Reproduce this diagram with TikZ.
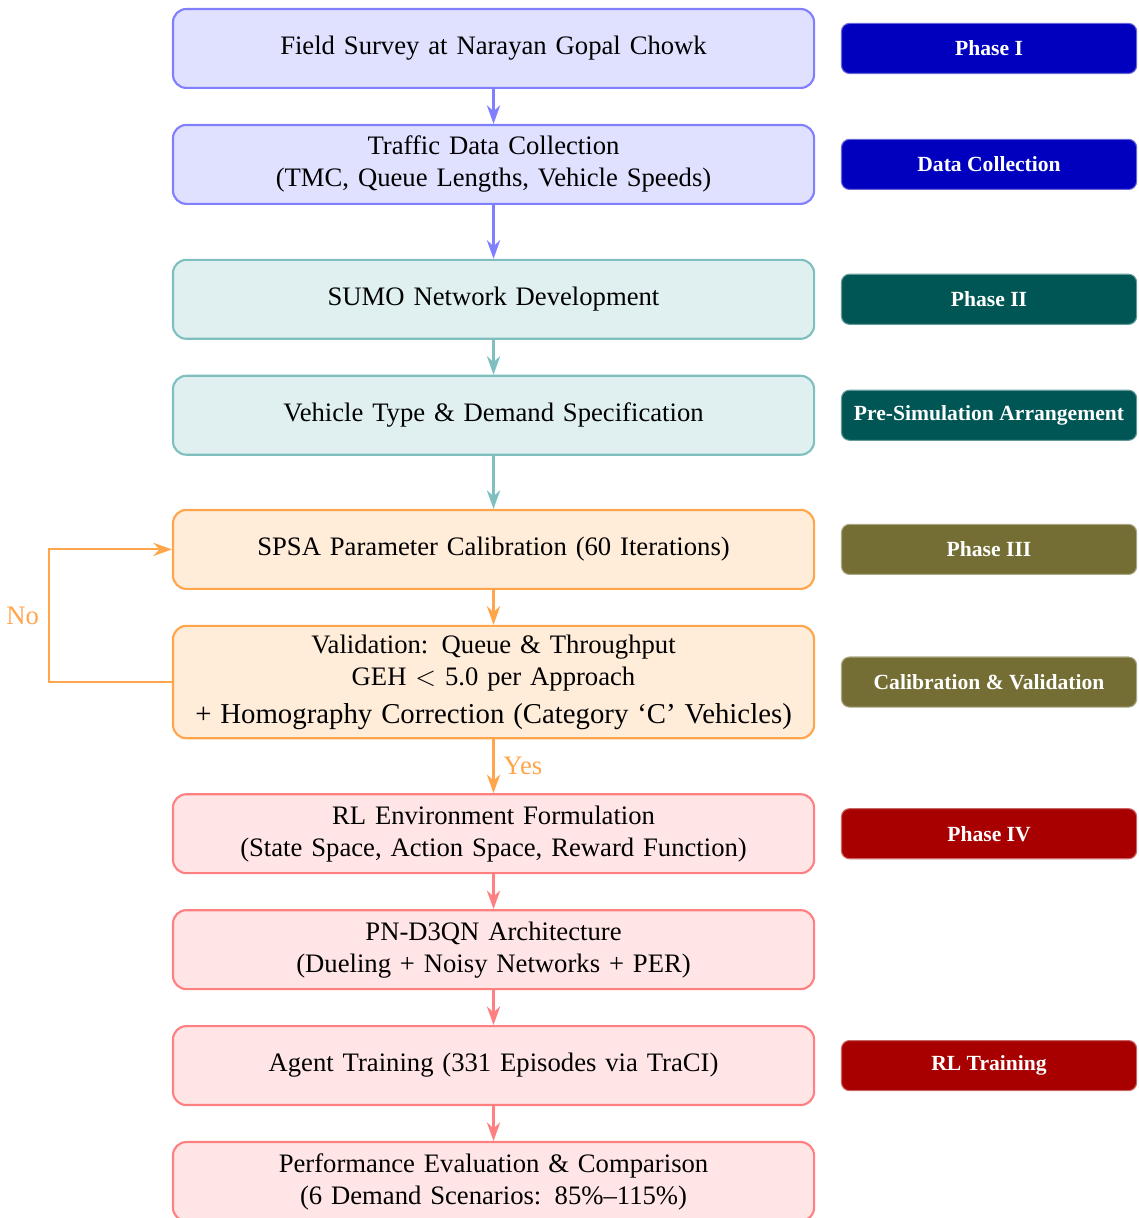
\documentclass[tikz,border=0pt]{standalone}
\usepackage{fontspec}
\setmainfont{Liberation Serif}
\usetikzlibrary{arrows.meta,positioning}
\definecolor{tagblue}{RGB}{0,0,190}
\definecolor{tagteal}{RGB}{0,85,85}
\definecolor{tagolive}{RGB}{117,110,52}
\definecolor{tagred}{RGB}{168,0,0}

\begin{document}
\begin{tikzpicture}[
	stage/.style n args={2}{draw=#1, fill=#2, thick, rounded corners=5pt,
		minimum width=8.45cm, text width=8.3cm, minimum height=1.04cm,
		align=center, inner xsep=2pt},
	bluebox/.style={stage={blue!50}{blue!12}},
	tealbox/.style={stage={teal!50}{teal!12}},
	orangebox/.style={stage={orange!70}{orange!15}},
	redbox/.style={stage={red!50}{red!10}},
	tag/.style={fill=#1, draw=#1!60!white, rounded corners=3pt, text=white,
		font=\fontsize{8.1}{10}\selectfont\bfseries, minimum width=3.89cm, minimum height=0.66cm},
	flow/.style={draw=#1, thick, -{Stealth[length=7pt,width=5pt]}}
	]
	\useasboundingbox (-6.505,0) rectangle (8.495,-16.054);
	% Phase I
	\node[bluebox] (survey) at (0,-0.639) {Field Survey at Narayan Gopal Chowk};
	\node[bluebox, below=0.46cm of survey] (traffic) {Traffic Data Collection\\(TMC, Queue Lengths, Vehicle Speeds)};
	% Phase II
	\node[tealbox, below=0.71cm of traffic] (sumo) {SUMO Network Development};
	\node[tealbox, below=0.46cm of sumo] (demand) {Vehicle Type \& Demand Specification};
	% Phase III
	\node[orangebox, below=0.70cm of demand] (spsa) {SPSA Parameter Calibration (60 Iterations)};
	\node[orangebox, below=0.46cm of spsa] (valid) {Validation: Queue \& Throughput\\GEH $<$ 5.0 per Approach\\[2.2pt]\mbox{\fontsize{10.8}{13}\selectfont + Homography Correction (Category ‘C’ Vehicles)}};
	% Phase IV
	\node[redbox, below=0.71cm of valid] (rlenv) {RL Environment Formulation\\(State Space, Action Space, Reward Function)};
	\node[redbox, below=0.46cm of rlenv] (arch) {PN-D3QN Architecture\\(Dueling + Noisy Networks + PER)};
	\node[redbox, below=0.46cm of arch] (train) {Agent Training (331 Episodes via TraCI)};
	\node[redbox, below=0.46cm of train] (eval) {Performance Evaluation \& Comparison\\(6 Demand Scenarios: 85\%–115\%)};

	% side tags
	\node[tag=tagblue, right=0.34cm of survey] (phaseI) {Phase I};
	\node[tag=tagblue, right=0.34cm of traffic] (datacol) {Data Collection};
	\node[tag=tagteal, right=0.34cm of sumo] (phaseII) {Phase II};
	\node[tag=tagteal, right=0.34cm of demand] (presim) {Pre-Simulation Arrangement};
	\node[tag=tagolive, right=0.34cm of spsa] (phaseIII) {Phase III};
	\node[tag=tagolive, right=0.34cm of valid] (calval) {Calibration \& Validation};
	\node[tag=tagred, right=0.34cm of rlenv] (phaseIV) {Phase IV};
	\node[tag=tagred, right=0.34cm of train] (rltrain) {RL Training};

	% connectors
	\draw[flow=blue!50] (survey) -- (traffic);
	\draw[flow=blue!50] (traffic) -- (sumo);
	\draw[flow=teal!50] (sumo) -- (demand);
	\draw[flow=teal!50] (demand) -- (spsa);
	\draw[flow=orange!70] (spsa) -- (valid);
	\draw[flow=orange!70] (valid) -- node[right, text=orange!70] {Yes} (rlenv);
	\draw[flow=orange!70] (valid.west) -- ++(-1.62,0) coordinate (loop)
		|- node[pos=0.25, left, text=orange!70] {No} (spsa.west);
	\draw[flow=red!50] (rlenv) -- (arch);
	\draw[flow=red!50] (arch) -- (train);
	\draw[flow=red!50] (train) -- (eval);
\end{tikzpicture}
\end{document}
